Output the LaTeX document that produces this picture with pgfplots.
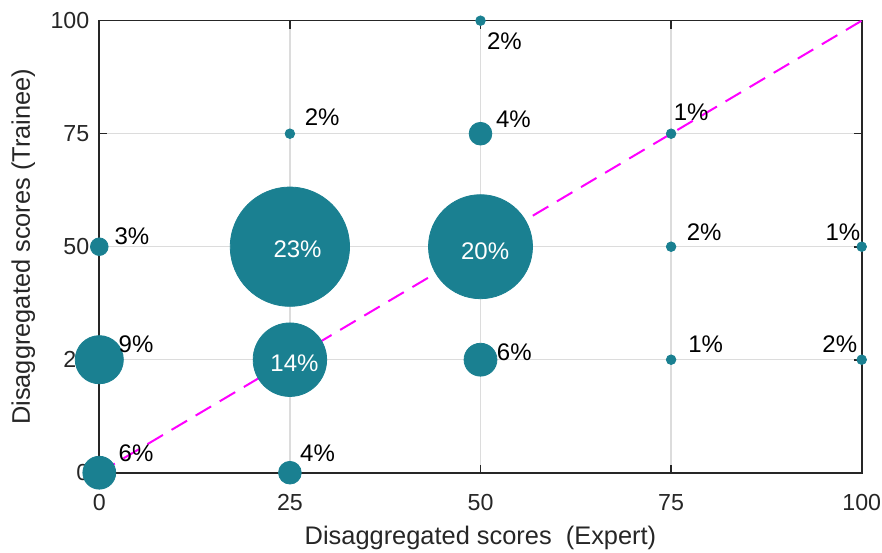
\documentclass[border=0pt]{standalone}
\usepackage{pgfplots}
\usepackage{pgfplotstable}
\usepackage{fontspec}
\setmainfont{Liberation Sans}
\pgfplotsset{compat=1.18}

\definecolor{bub}{RGB}{26,128,145}
\definecolor{axgray}{RGB}{38,38,38}
\definecolor{gridgray}{RGB}{220,220,220}
\definecolor{diag}{RGB}{255,0,255}

% x y: score pair; pct: share of cases; lx ly: where the share is written; tw: 1 = white text
\pgfplotstableread{
x   y   pct lx    ly    tw
0   0   6   2.49  2.43  0
25  0   4   26.3  2.43  0
0   25  9   2.49  26.7  0
25  25  14  22.4  22.5  1
50  25  6   52.1  24.9  0
75  25  1   77.2  26.5  0
100 25  2   94.8  26.5  0
0   50  3   1.96  50.55 0
25  50  23  22.8  47.7  1
50  50  20  47.4  47.2  1
75  50  2   77.0  51.4  0
100 50  1   95.2  51.4  0
25  75  2   26.9  76.8  0
50  75  4   52.0  76.4  0
75  75  1   75.3  77.9  0
50  100 2   50.8  93.7  0
}\scores

\begin{document}
\begin{tikzpicture}
\begin{axis}[
  scale only axis,
  width=381.2pt, height=226pt,
  xmin=0, xmax=100, ymin=0, ymax=100,
  xtick={0,25,50,75,100}, ytick={0,25,50,75,100},
  tick align=inside,
  major tick length=4pt,
  grid=major,
  major grid style={draw=gridgray, line width=0.7pt},
  axis line style={draw=axgray, line width=0.8pt},
  tick style={draw=axgray, line width=0.8pt},
  /pgf/number format/assume math mode=true,
  tick label style={font=\fontsize{11.6}{14}\selectfont, text=axgray},
  xticklabel style={yshift=-7.5pt},
  yticklabel style={xshift=-1.5pt},
  clip=false,
  xlabel={Disaggregated scores\ \ (Expert)},
  ylabel={Disaggregated scores (Trainee)},
  every axis x label/.style={at={(axis description cs:0.5,-0.1435)}, anchor=center,
    font=\fontsize{12.7}{15}\selectfont, text=axgray},
  every axis y label/.style={at={(axis description cs:-0.0997,0.5)}, anchor=center, rotate=90,
    font=\fontsize{12.7}{15}\selectfont, text=axgray},
]
% line of perfect agreement
\addplot[diag, line width=1pt, dash pattern=on 9pt off 5pt] coordinates {(0,0) (100,100)};

% bubbles, radius growing with the share
\addplot[
  scatter, only marks, mark=*,
  point meta={\thisrow{pct}},
  scatter/use mapped color={draw=bub, fill=bub},
  visualization depends on={\thisrow{pct} \as \p},
  scatter/@pre marker code/.append style={/tikz/mark size={\p<2.5 ? 2.4 : 0.6+1.27*\p}},
] table[x=x, y=y] {\scores};

% share labels
\addplot[
  only marks, mark=none,
  point meta=explicit symbolic,
  visualization depends on={\thisrow{tw} \as \tw},
  nodes near coords={\ifdim\tw pt>0.5pt\color{white}\else\color{black}\fi\pgfplotspointmeta\%},
  every node near coord/.append style={anchor=base west, inner sep=0pt, font=\fontsize{12}{14}\selectfont},
] table[x=lx, y=ly, meta=pct] {\scores};
\end{axis}
\pgfresetboundingbox
\path[use as bounding box] (-49.65pt,-39.65pt) rectangle (391.35pt,236.35pt);
\end{tikzpicture}
\end{document}
